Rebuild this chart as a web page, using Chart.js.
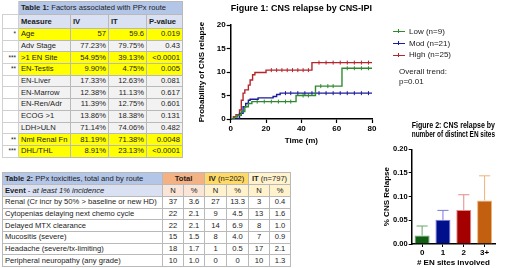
<!DOCTYPE html>
<html>
<head>
<meta charset="utf-8">
<script src="https://cdn.jsdelivr.net/npm/chart.js@4.4.1/dist/chart.umd.min.js"></script>
<style>
  body { margin:0; width:520px; height:268px; overflow:hidden; background:#fff; position:relative;
         font-family:"Liberation Sans",Arial,sans-serif; }
  table { position:absolute; border-collapse:collapse; table-layout:fixed; font-size:7.6px; color:#1b1b1b; }
  td { border:1px solid #b9b9b9; padding:0 2px; white-space:nowrap; overflow:hidden; line-height:10px; }
  #t1 { left:2px; top:1px; width:180px; }
  #t2 { left:2px; top:172px; width:288px; }
  .num { text-align:right; }
  .ctr { text-align:center; }
  .star { text-align:right; font-size:6.5px; background:#fff; border-color:#d0d0d0; }
  .grey { background:#f2f2f2; }
  .yel { background:#ffff00; }
  .ttl { background:#b4c6e7; }
  .hdr { background:#d9e1f2; font-weight:bold; }
  #c1 { position:absolute; left:186px; top:0px; }
  #c2 { position:absolute; left:380px; top:118px; }
  #leg { position:absolute; left:393px; top:26px; font-size:8px; color:#222; }
  #leg .li { height:11.7px; line-height:11.7px; white-space:nowrap; }
  #leg .mk { display:inline-block; position:relative; width:12px; height:0; border-top:1px solid; vertical-align:middle; margin-right:4px; }
  #leg .mk:after { content:""; position:absolute; left:5px; top:-3px; width:0; height:4px; border-left:1px solid; border-color:inherit; }
  #trend { position:absolute; left:399px; top:67px; font-size:8px; line-height:9.5px; color:#222; }
</style>
</head>
<body>
<table id="t1"><colgroup><col style="width:16px"><col style="width:52px"><col style="width:38px"><col style="width:38px"><col style="width:36px"></colgroup><tbody></tbody></table>
<table id="t2"><colgroup><col style="width:160px"><col style="width:21px"><col style="width:21px"><col style="width:22px"><col style="width:22px"><col style="width:21px"><col style="width:21px"></colgroup><tbody></tbody></table>
<canvas id="c1" width="230" height="150"></canvas>
<canvas id="c2" width="140" height="150"></canvas>
<div id="leg"></div>
<div id="trend">Overall trend:<br>p=0.01</div>
<script>
// ---- table 1 ----
var measures = ['Age','Adv Stage','>1 EN Site','EN-Testis','EN-Liver','EN-Marrow','EN-Ren/Adr','ECOG >1','LDH>ULN','Nml Renal Fn','DHL/THL'];
var ivCol = ['57','77.23%','54.95%','9.90%','17.33%','12.38%','11.39%','13.86%','71.14%','81.19%','8.91%'];
var itCol = ['59.6','79.75%','39.13%','4.75%','12.63%','11.13%','12.75%','18.38%','74.06%','71.38%','23.13%'];
var pCol = ['0.019','0.43','<0.0001','0.005','0.081','0.617','0.601','0.131','0.482','0.0048','<0.0001'];
var stars = ['*','','***','**','','','','','','**','***'];

// ---- table 2 ----
var events = ['Renal (Cr incr by 50% > baseline or new HD)','Cytopenias delaying next chemo cycle','Delayed MTX clearance','Mucositis (severe)','Headache (severe/tx-limiting)','Peripheral neuropathy (any grade)'];
var totalN = ['37','22','22','15','18','10'];
var totalPct = ['3.6','2.1','2.1','1.5','1.7','1.0'];
var ivN = ['27','9','14','8','1','0'];
var ivPct = ['13.3','4.5','6.9','4.0','0.5','0'];
var itN = ['3','13','8','7','17','10'];
var itPct = ['0.4','1.6','1.0','0.9','2.1','1.3'];

// ---- figure 1: KM steps [time, %] ----
var lowCurve = [[0,0],[2,0.4],[4,0.8],[6,1.6],[8,2.6],[10,3.3],[12,3.7],[37,5.0],[48,7.0],[63,10.8],[80,10.8]];
var modCurve = [[0,0],[5,1.2],[7,2.6],[8.5,3.3],[10,4.0],[11,4.2],[15.5,4.5],[24,4.8],[26,5.2],[28,5.5],[80,5.5]];
var highCurve = [[0,0],[1.5,0.5],[3,0.9],[5,1.9],[6,4.0],[7,5.5],[8,6.2],[10,7.2],[11,8.3],[12.4,9.4],[13.7,9.9],[20,10.4],[46,12.0],[80,12.0]];
var lowCens = [[15,3.7],[19,3.7],[23,3.7],[27,3.7],[31,3.7],[34,3.7],[41,5.0],[44,5.0],[51,7.0],[55,7.0],[58,7.0],[66,10.8],[70,10.8],[74,10.8],[78,10.8]];
var modCens = [[31,5.5],[34,5.5],[38,5.5],[42,5.5],[46,5.5],[50,5.5],[54,5.5],[58,5.5],[62,5.5],[66,5.5],[70,5.5],[74,5.5],[78,5.5]];
var highCens = [[23,10.4],[26,10.4],[29,10.4],[32,10.4],[35,10.4],[38,10.4],[41,10.4],[44,10.4],[50,12.0],[54,12.0],[58,12.0],[62,12.0],[66,12.0],[70,12.0],[74,12.0],[78,12.0]];
var groups = ['Low (n=9)','Mod (n=21)','High (n=25)'];
var groupColors = ['#2f8a2f','#1c1c9a','#b3262b'];

// ---- figure 2 ----
var enSites = ['0','1','2','3+'];
var enRelapse = [0.018, 0.051, 0.072, 0.092];
var enUpper = [0.038, 0.071, 0.104, 0.144];
var barColors = ['#0f5e12','#00108c','#a40000','#c2600f'];
var barEdges = ['#6aa66a','#7a7ad8','#e08b8b','#f0b27a'];

function cell(tr, txt, cls, span){
  var td = document.createElement('td');
  if (txt !== null) td.textContent = txt;
  if (cls) td.className = cls;
  if (span) td.colSpan = span;
  tr.appendChild(td);
  return td;
}

var b1 = document.querySelector('#t1 tbody');
var tr = document.createElement('tr'); tr.style.height = '13px'; b1.appendChild(tr);
var s = cell(tr, '', 'star'); s.style.borderTopColor = '#fff'; s.style.borderLeftColor = '#fff';
var t = cell(tr, null, 'ttl', 4); t.innerHTML = '<b>Table 1:</b> Factors associated with PPx route';
tr = document.createElement('tr'); tr.style.height = '14px'; b1.appendChild(tr);
cell(tr, '', 'star'); cell(tr, 'Measure', 'hdr'); cell(tr, 'IV', 'hdr'); cell(tr, 'IT', 'hdr'); cell(tr, 'P-value', 'hdr');
measures.forEach(function(m, i){
  var r = document.createElement('tr'); r.style.height = '11.7px'; b1.appendChild(r);
  var bg = stars[i] ? 'yel' : 'grey';
  cell(r, stars[i], 'star');
  cell(r, m, bg);
  cell(r, ivCol[i], bg + ' num');
  cell(r, itCol[i], bg + ' num');
  cell(r, pCol[i], bg + ' num');
});

var b2 = document.querySelector('#t2 tbody');
tr = document.createElement('tr'); tr.style.height = '12px'; b2.appendChild(tr);
t = cell(tr, null, 'ttl'); t.innerHTML = '<b>Table 2:</b> PPx toxicities, total and by route';
t = cell(tr, null, 'ctr', 2); t.innerHTML = '<b>Total</b>'; t.style.background = '#f4b183';
t = cell(tr, null, 'ctr', 2); t.innerHTML = '<b>IV</b> (n=202)'; t.style.background = '#ffd966';
t = cell(tr, null, 'ctr', 2); t.innerHTML = '<b>IT</b> (n=797)'; t.style.background = '#fff2cc';
tr = document.createElement('tr'); tr.style.height = '12px'; b2.appendChild(tr);
t = cell(tr, null); t.innerHTML = '<b>Event</b> - <i>at least 1% incidence</i>'; t.style.background = '#d9e1f2';
['N','%','N','%','N','%'].forEach(function(h, j){
  var c = cell(tr, h, 'ctr');
  c.style.background = j < 2 ? '#fbe5d6' : '#fff2cc';
});
events.forEach(function(e, i){
  var r = document.createElement('tr'); r.style.height = '11.7px'; b2.appendChild(r);
  cell(r, e);
  cell(r, totalN[i], 'ctr'); cell(r, totalPct[i], 'ctr');
  cell(r, ivN[i], 'ctr'); cell(r, ivPct[i], 'ctr');
  cell(r, itN[i], 'ctr'); cell(r, itPct[i], 'ctr');
});

// legend
var leg = document.getElementById('leg');
groups.forEach(function(g, i){
  var d = document.createElement('div'); d.className = 'li';
  var mk = document.createElement('span'); mk.className = 'mk'; mk.style.borderColor = groupColors[i];
  d.appendChild(mk); d.appendChild(document.createTextNode(g));
  leg.appendChild(d);
});

Chart.defaults.font.family = '"Liberation Sans", Arial, sans-serif';
Chart.defaults.color = '#000';

function pts(a){ return a.map(function(p){ return {x:p[0], y:p[1]}; }); }

var curves = [lowCurve, modCurve, highCurve];
var cens = [lowCens, modCens, highCens];
var ds1 = [];
curves.forEach(function(c, i){
  ds1.push({ label: groups[i], data: pts(c), stepped: true, borderColor: groupColors[i], borderWidth: 1.4, pointRadius: 0, fill: false });
});
cens.forEach(function(c, i){
  ds1.push({ label: groups[i] + ' censored', data: pts(c), showLine: false, pointStyle: 'line', rotation: 90,
             pointRadius: 2, borderColor: groupColors[i], borderWidth: 1 });
});

var tickFont = {size: 8, weight: 'bold'};
new Chart(document.getElementById('c1'), {
  type: 'line',
  data: { datasets: ds1 },
  options: {
    responsive: false, animation: false, devicePixelRatio: 1,
    layout: { padding: { top: 0, right: 44, bottom: 0, left: 0 } },
    plugins: {
      legend: { display: false }, tooltip: { enabled: false },
      title: { display: true, fullSize: false, text: 'Figure 1: CNS relapse by CNS-IPI', color: '#000',
               font: { size: 9, weight: 'bold' }, padding: { top: 3, bottom: 11.2 } }
    },
    scales: {
      x: { type: 'linear', min: 0, max: 80,
           ticks: { stepSize: 20, font: tickFont, padding: 1, maxRotation: 0 },
           grid: { drawOnChartArea: false, tickLength: 4, color: '#000', tickWidth: 1.2 },
           border: { color: '#000', width: 1.5 },
           title: { display: true, text: 'Time (m)', font: tickFont, padding: { top: 0, bottom: 4 } },
           afterFit: function(sc){ sc.height = 31; } },
      y: { min: 0, max: 20,
           ticks: { stepSize: 5, font: tickFont, padding: 1 },
           grid: { drawOnChartArea: false, tickLength: 4, color: '#000', tickWidth: 1.2 },
           border: { color: '#000', width: 1.5 },
           title: { display: true, text: 'Probability of CNS relapse', font: tickFont, padding: { top: 11, bottom: 0 } },
           afterFit: function(sc){ sc.width = 44.7; } }
    }
  }
});

var errBars = {
  id: 'errBars',
  afterDatasetsDraw: function(chart){
    var ctx = chart.ctx, y = chart.scales.y;
    chart.getDatasetMeta(0).data.forEach(function(bar, i){
      var top = y.getPixelForValue(enUpper[i]);
      var half = bar.width * 0.37;
      ctx.save();
      ctx.strokeStyle = barEdges[i]; ctx.lineWidth = 1;
      ctx.beginPath();
      ctx.moveTo(bar.x, bar.y); ctx.lineTo(bar.x, top);
      ctx.moveTo(bar.x - half, top); ctx.lineTo(bar.x + half, top);
      ctx.stroke();
      ctx.restore();
    });
  }
};

new Chart(document.getElementById('c2'), {
  type: 'bar',
  data: { labels: enSites,
          datasets: [{ data: enRelapse, backgroundColor: barColors, borderColor: barEdges, borderWidth: 1,
                       barPercentage: 0.72, categoryPercentage: 1 }] },
  options: {
    responsive: false, animation: false, devicePixelRatio: 1,
    layout: { padding: { top: 0, right: 25, bottom: 0, left: 0 } },
    plugins: {
      legend: { display: false }, tooltip: { enabled: false },
      title: { display: true, fullSize: false, text: ['Figure 2: CNS relapse by', 'number of distinct EN sites'], color: '#000',
               font: { size: 9, weight: 'bold', lineHeight: 1.1 }, padding: { top: 2.1, bottom: 9.4 } }
    },
    scales: {
      x: { ticks: { font: tickFont, padding: 1 },
           grid: { drawOnChartArea: false, offset: false, tickLength: 3, color: '#000', tickWidth: 1 },
           border: { color: '#000', width: 1.5 },
           title: { display: true, text: '# EN sites involved', font: tickFont, padding: { top: 0, bottom: 0 } },
           afterFit: function(sc){ sc.height = 24; } },
      y: { min: 0, max: 0.2,
           ticks: { stepSize: 0.05, font: { size: 7.5, weight: 'bold' }, padding: 1,
                    callback: function(v){ return v.toFixed(2); } },
           grid: { drawOnChartArea: false, tickLength: 3, color: '#000', tickWidth: 1 },
           border: { color: '#000', width: 1.5 },
           title: { display: true, text: '% CNS Relapse', font: tickFont, padding: { top: 2.2, bottom: 0 } },
           afterFit: function(sc){ sc.width = 31.7; } }
    }
  },
  plugins: [errBars]
});
</script>
</body>
</html>
